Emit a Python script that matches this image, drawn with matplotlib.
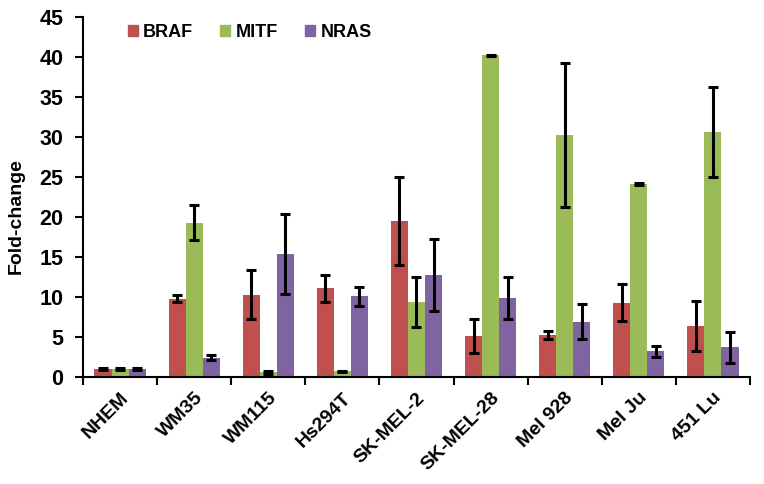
import matplotlib
matplotlib.use("Agg")
import matplotlib.pyplot as plt
import numpy as np
from matplotlib.patches import Patch

categories = ["NHEM", "WM35", "WM115", "Hs294T", "SK-MEL-2", "SK-MEL-28", "Mel 928", "Mel Ju", "451 Lu"]
series = ["BRAF", "MITF", "NRAS"]
braf = [1.0, 9.8, 10.3, 11.1, 19.5, 5.1, 5.3, 9.3, 6.4]
braf_err = [0.1, 0.4, 3.1, 1.7, 5.5, 2.1, 0.5, 2.3, 3.1]
mitf = [1.0, 19.3, 0.6, 0.7, 9.4, 40.2, 30.3, 24.1, 30.6]
mitf_err = [0.1, 2.2, 0.2, 0.1, 3.1, 0.1, 9.0, 0.1, 5.6]
nras = [1.0, 2.4, 15.4, 10.1, 12.7, 9.9, 6.9, 3.2, 3.7]
nras_err = [0.1, 0.3, 5.0, 1.2, 4.5, 2.6, 2.2, 0.7, 1.9]
colors = ["#C0504D", "#9BBB59", "#8064A2"]

plt.rcParams['font.family'] = ['Liberation Sans', 'DejaVu Sans']
plt.rcParams['font.weight'] = 'bold'

fig = plt.figure(figsize=(7.64, 4.84), dpi=100)
ax = fig.add_axes([83/764, 1-377/484, 667/764, 360/484])

x = np.arange(len(categories))
w = 0.23
vals = [braf, mitf, nras]
errs = [braf_err, mitf_err, nras_err]
for i, (v, e, c) in enumerate(zip(vals, errs, colors)):
    ax.bar(x + (i-1)*w, v, width=w, color=c, label=series[i], zorder=2)
    ax.errorbar(x + (i-1)*w, v, yerr=e, fmt='none', ecolor='black',
                elinewidth=2.2, capsize=3.5, capthick=2.2, zorder=3)

ax.set_xlim(-0.5, len(categories)-0.5)
ax.set_ylim(0, 45)
ax.set_yticks(np.arange(0, 46, 5))
ax.tick_params(axis='y', labelsize=15.5, width=1.5, length=6, pad=8)
ax.set_xticks(np.arange(-0.5, len(categories), 1.0))
ax.set_xticklabels([])
ax.tick_params(axis='x', which='major', width=1.5, length=6, direction='out')
ax.set_xticks(x, minor=True)
ax.set_xticklabels(categories, minor=True, rotation=45, ha='right',
                   rotation_mode='anchor', fontsize=14, fontweight='bold')
ax.tick_params(axis='x', which='minor', length=0, pad=9)
for lab in ax.get_yticklabels():
    lab.set_fontweight('bold')

ax.spines['top'].set_visible(False)
ax.spines['right'].set_visible(False)
ax.spines['left'].set_linewidth(1.5)
ax.spines['bottom'].set_linewidth(1.5)

ax.set_ylabel("Fold-change", fontsize=14, fontweight='bold')
ax.yaxis.set_label_coords(-0.087, 0.447)

handles = [Patch(color=c) for c in colors]
leg = ax.legend(handles, series, ncol=3, frameon=False, loc='center',
                bbox_to_anchor=(0.25, 0.958), handlelength=0.55, handleheight=0.55,
                handletextpad=0.3, columnspacing=1.5,
                prop={'size': 13, 'weight': 'bold'})

fig.savefig("out.png", dpi=100)
